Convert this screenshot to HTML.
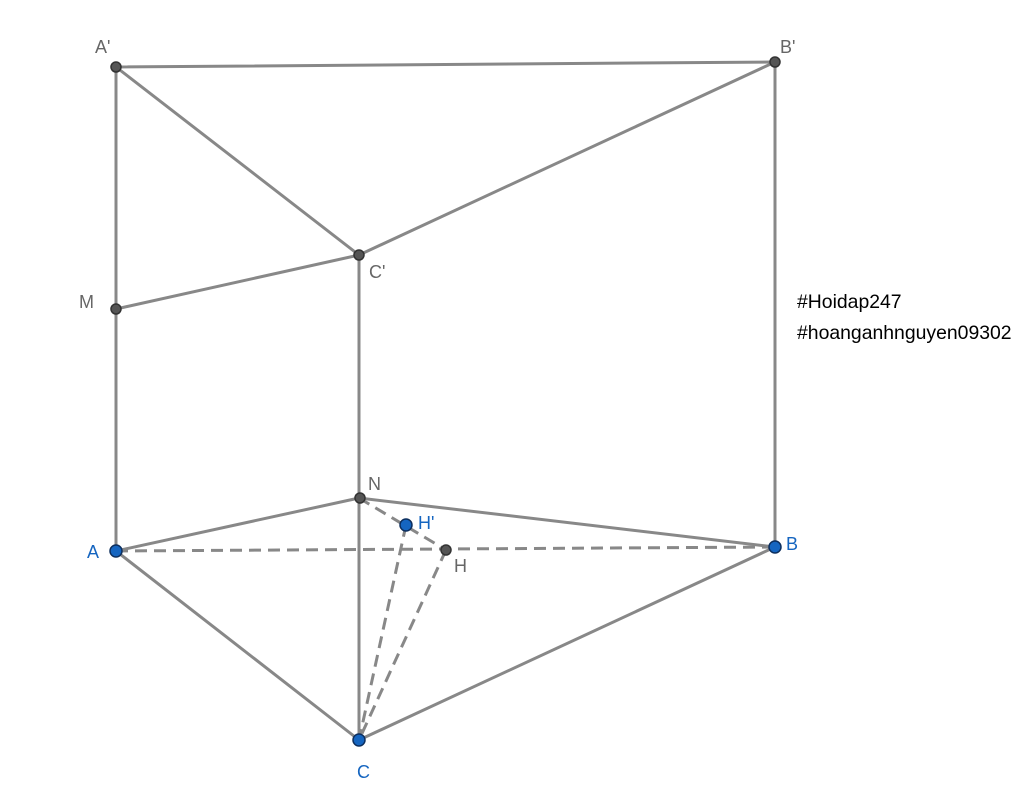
<!DOCTYPE html>
<html><head><meta charset="utf-8"><style>
html,body{margin:0;padding:0;background:#fff;width:1024px;height:793px;overflow:hidden}
text{font-family:"Liberation Sans",sans-serif;font-size:18px}
text.big{font-size:19.4px}
</style></head><body>
<svg width="1024" height="793" viewBox="0 0 1024 793">
<g stroke="#888" stroke-width="3" fill="none" stroke-linecap="round">
<line x1="116" y1="67" x2="775" y2="62"/>
<line x1="116" y1="67" x2="359" y2="255"/>
<line x1="775" y1="62" x2="359" y2="255"/>
<line x1="116" y1="67" x2="116" y2="551"/>
<line x1="775" y1="62" x2="775" y2="547"/>
<line x1="359" y1="255" x2="359" y2="740"/>
<line x1="116" y1="309" x2="359" y2="255"/>
<line x1="116" y1="551" x2="359" y2="498"/>
<line x1="359" y1="498" x2="775" y2="547"/>
<line x1="116" y1="551" x2="359" y2="740"/>
<line x1="775" y1="547" x2="359" y2="740"/>
</g>
<g stroke="#888" stroke-width="3" fill="none" stroke-dasharray="12,7">
<line x1="116" y1="551" x2="775" y2="547"/>
<line x1="359" y1="498" x2="446" y2="550"/>
<line x1="406" y1="525" x2="359" y2="740"/>
<line x1="446" y1="550" x2="359" y2="740"/>
</g>
<g fill="#555" stroke="#333" stroke-width="1.5">
<circle cx="116" cy="67" r="5"/>
<circle cx="775" cy="62" r="5"/>
<circle cx="359" cy="255" r="5"/>
<circle cx="116" cy="309" r="5"/>
<circle cx="360" cy="498" r="5"/>
<circle cx="446" cy="550" r="5"/>
</g>
<g fill="#1565c0" stroke="#0d2f5e" stroke-width="1.5">
<circle cx="116" cy="551" r="6"/>
<circle cx="775" cy="547" r="6"/>
<circle cx="359" cy="740" r="6"/>
<circle cx="406" cy="525" r="6"/>
</g>
<g fill="#666">
<text x="95" y="53">A'</text>
<text x="780" y="53">B'</text>
<text x="369" y="278">C'</text>
<text x="79" y="308">M</text>
<text x="368" y="490">N</text>
<text x="454" y="572">H</text>
</g>
<g fill="#1565c0">
<text x="87" y="558">A</text>
<text x="786" y="550">B</text>
<text x="357" y="778">C</text>
<text x="418" y="529">H'</text>
</g>
<g fill="#000">
<text class="big" x="797" y="308">#Hoidap247</text>
<text class="big" x="797" y="339">#hoanganhnguyen09302</text>
</g>
</svg>
</body></html>
